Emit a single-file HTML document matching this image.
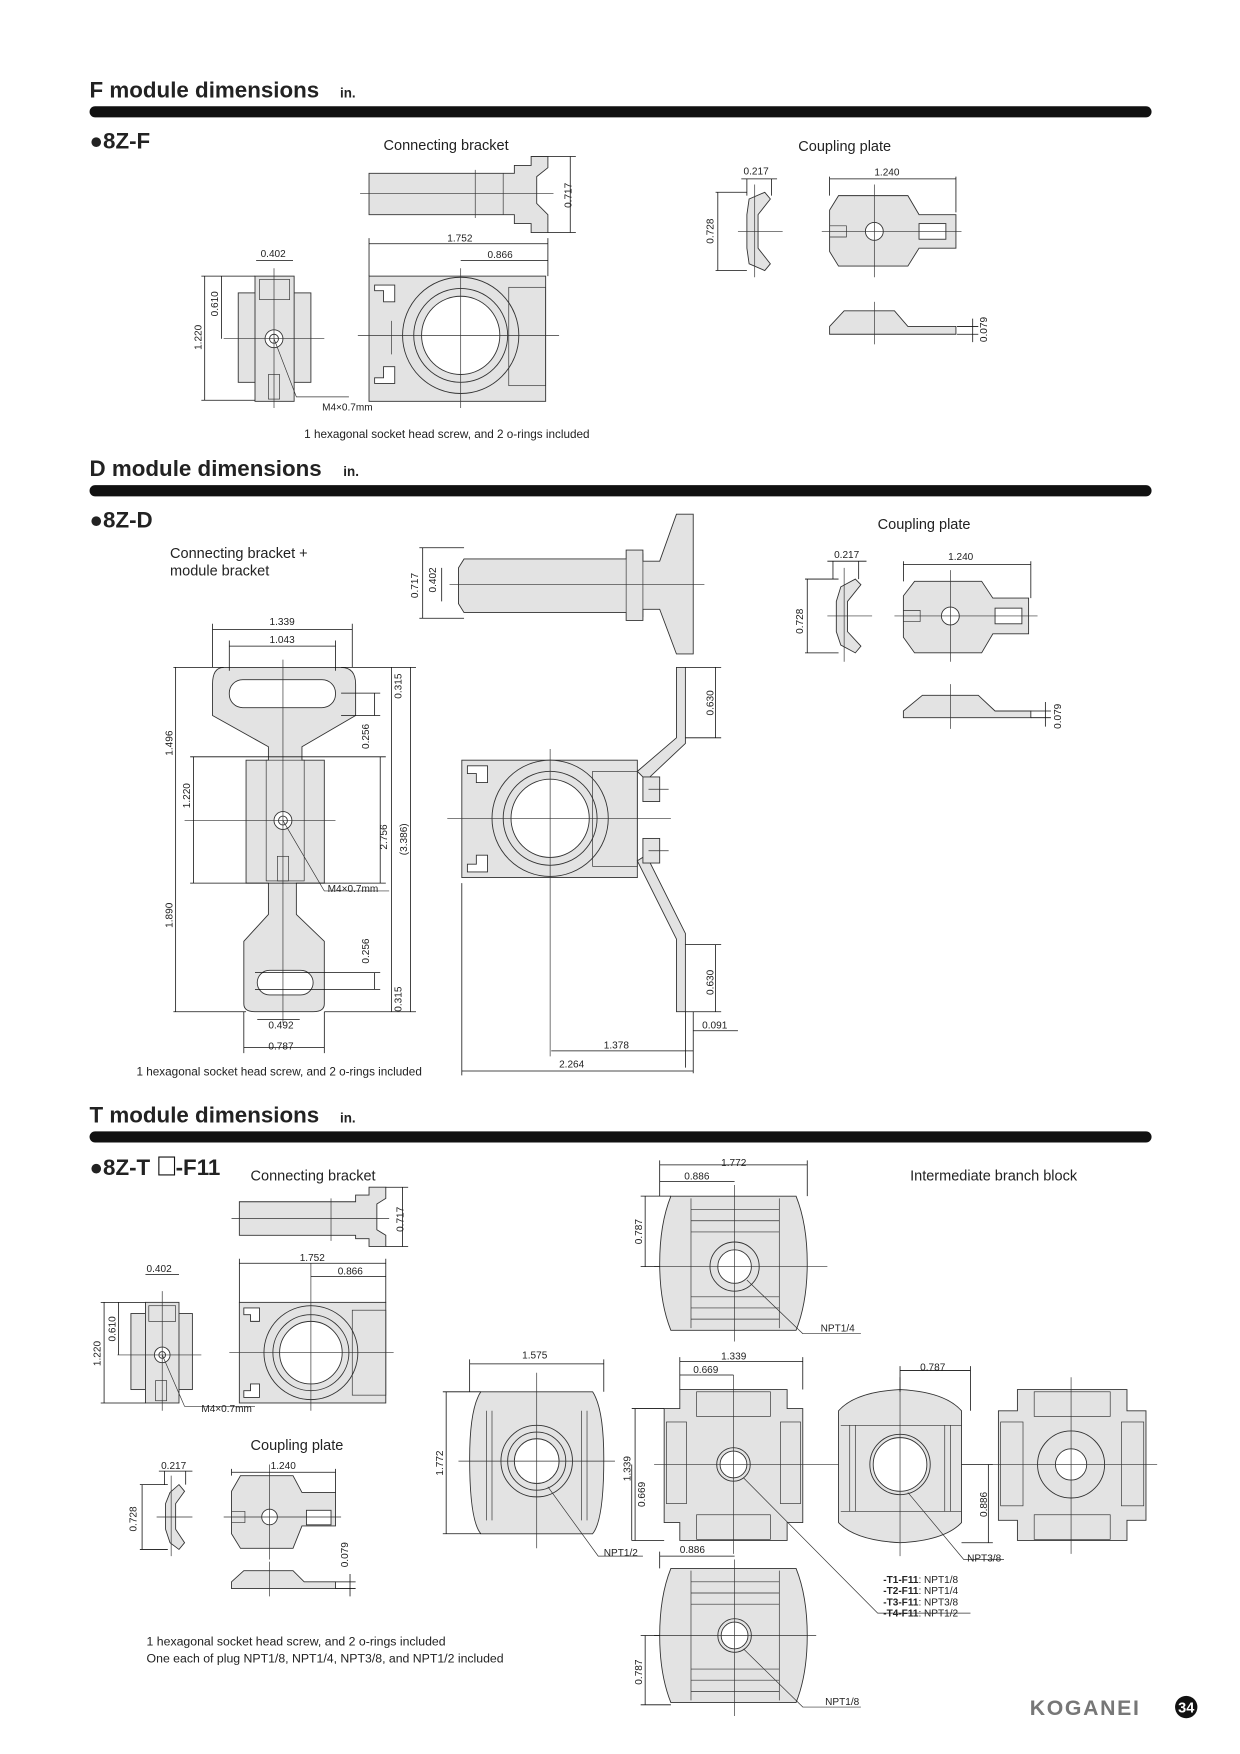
<!DOCTYPE html>
<html><head><meta charset="utf-8"><style>
html,body{margin:0;padding:0;background:#fff}
svg{display:block}
text{font-family:"Liberation Sans",Arial,sans-serif;fill:#222}
.s{fill:#e3e3e3;stroke:#333;stroke-width:0.8}
.w{fill:#fff;stroke:#333;stroke-width:0.8}
.l{fill:none;stroke:#333;stroke-width:0.6}
.d{fill:none;stroke:#111;stroke-width:0.7}
.t{font-size:9px}
.h{font-size:20px;font-weight:bold}
.u{font-size:12px;font-weight:bold}
.c{font-size:13px}
</style></head><body>
<svg width="1240" height="1754" viewBox="0 0 1109 1569" xmlns="http://www.w3.org/2000/svg">
<!-- ===== F ===== -->
<text x="80" y="87" class="h">F module dimensions</text><text x="304" y="87" class="u">in.</text>
<rect x="80" y="95" width="950" height="10" rx="5" fill="#111"/>
<text x="80" y="133" class="h">●8Z-F</text>
<text x="343" y="134" class="c">Connecting bracket</text>
<path class="s" d="M330 155 H460 V148 H475 V140 H490 V150 L480 158 V182 L490 192 V208 H475 V200 H460 V192 H330 Z"/>
<path class="l" d="M425 152 V195 M450 155 V192 M322 173 H495"/>
<path class="d" d="M490 140 H515 M490 208 H515 M510 140 V208"/><text class="t" transform="translate(511,186) rotate(-90)">0.717</text>
<rect class="s" x="330" y="247" width="158" height="112"/>
<path class="w" d="M335 255 h18 v15 h-10 v-10 h-8z M335 343 h18 v-15 h-10 v10 h-8z"/>
<circle class="s" cx="412" cy="300" r="52"/><circle class="s" cx="412" cy="300" r="42"/><circle class="w" cx="412" cy="300" r="35"/>
<rect class="l" x="455" y="257" width="33" height="88"/>
<path class="l" d="M320 300 H500 M412 240 V365 M350 287 v30"/>
<path class="d" d="M330 218 H490 M330 213 V247 M490 213 V247 M412 233 H490"/><text x="400" y="216" class="t">1.752</text><text x="436" y="231" class="t">0.866</text>
<rect class="s" x="213" y="262" width="65" height="80"/><rect class="s" x="228" y="247" width="35" height="112"/>
<rect class="l" x="232" y="250" width="27" height="18"/><rect class="l" x="240" y="335" width="10" height="22"/>
<circle class="w" cx="245" cy="303" r="8"/><circle class="w" cx="245" cy="303" r="4"/>
<path class="l" d="M245 240 V365 M200 303 H290 M245 303 L265 355 H312"/>
<path class="d" d="M229 233 H262 M180 247 H228 M180 358 H228 M183 247 V358 M198 247 V303"/>
<text x="233" y="230" class="t">0.402</text><text class="t" transform="translate(195,283) rotate(-90)">0.610</text><text class="t" transform="translate(180,313) rotate(-90)">1.220</text>
<text x="288" y="367" class="t">M4×0.7mm</text>
<text x="272" y="392" style="font-size:10.5px">1 hexagonal socket head screw, and 2 o-rings included</text>
<text x="714" y="135" class="c">Coupling plate</text>
<path class="s" d="M670 178 L684 172 L689 178 L678 192 V222 L689 236 L684 242 L670 236 L668 222 V192 Z"/>
<path class="l" d="M660 207 H700 M675 165 V248"/>
<path class="d" d="M663 160 H695 M668 160 V175 M690 160 V175 M640 172 H668 M640 242 H668 M642 172 V242"/>
<text x="665" y="156" class="t">0.217</text><text class="t" transform="translate(638,218) rotate(-90)">0.728</text>
<path class="s" d="M750 175 H812 L822 192 H855 V222 H822 L812 238 H750 L742 225 V188 Z"/>
<circle class="w" cx="782" cy="207" r="8"/><rect class="w" x="822" y="200" width="24" height="14"/>
<path class="l" d="M735 207 H860 M782 165 V248 M742 212 h15 v-10 h-15"/>
<path class="d" d="M742 160 H855 M742 158 V175 M855 158 V190"/><text x="782" y="157" class="t">1.240</text>
<path class="s" d="M742 292 L755 278 H800 L812 292 H855 V299 H742 Z"/><path class="l" d="M782 270 V308"/>
<path class="d" d="M856 292 H875 M856 299 H875 M870 285 V306"/><text class="t" transform="translate(883,306) rotate(-90)">0.079</text>

<!-- ===== D ===== -->
<text x="80" y="426" class="h">D module dimensions</text><text x="307" y="426" class="u">in.</text>
<rect x="80" y="434" width="950" height="10" rx="5" fill="#111"/>
<text x="80" y="472" class="h">●8Z-D</text>
<text x="152" y="499" class="c">Connecting bracket +</text><text x="152" y="515" class="c">module bracket</text>
<path class="s" d="M415 500 H560 V492 H575 V502 H590 L605 460 H620 V585 H605 L590 545 H575 V555 H560 V548 H415 L410 540 V508 Z"/>
<path class="l" d="M402 523 H630 M575 495 V552 M560 500 V548"/>
<path class="d" d="M375 490 H415 M375 553 H415 M378 490 V553 M395 508 V538"/>
<text class="t" transform="translate(374,535) rotate(-90)">0.717</text><text class="t" transform="translate(390,530) rotate(-90)">0.402</text>
<path class="s" d="M200 597 H305 Q318 597 318 612 V640 L270 668 V680 H290 V790 H265 V818 L290 842 V898 Q290 905 280 905 H228 Q218 905 218 898 V842 L240 818 V790 H220 V680 H240 V668 L190 640 V612 Q190 597 200 597 Z"/>
<rect class="w" x="205" y="608" width="95" height="25" rx="12"/>
<rect class="w" x="230" y="868" width="50" height="22" rx="11"/>
<rect class="l" x="238" y="680" width="34" height="108"/><circle class="w" cx="253" cy="734" r="8"/><circle class="w" cx="253" cy="734" r="4"/>
<rect class="l" x="248" y="766" width="10" height="22"/>
<path class="l" d="M253 590 V915 M165 734 H300 M253 734 L290 797 H348"/>
<path class="d" d="M190 563 H315 M190 558 V597 M315 558 V597 M205 578 H300 M205 573 V600 M300 573 V600"/>
<text x="241" y="559" class="t">1.339</text><text x="241" y="575" class="t">1.043</text>
<path class="d" d="M155 597 H200 M155 905 H220 M157 597 V905 M173 677 V790 M170 677 H240 M170 790 H240"/>
<text class="t" transform="translate(154,676) rotate(-90)">1.496</text><text class="t" transform="translate(170,723) rotate(-90)">1.220</text><text class="t" transform="translate(154,830) rotate(-90)">1.890</text>
<path class="d" d="M305 597 H372 M305 620 H340 M305 640 H340 M335 620 V640 M240 677 H345 M240 790 H345 M340 677 V790 M228 870 H340 M228 885 H340 M335 870 V885 M290 905 H372 M350 597 V905 M367 597 V905"/>
<text class="t" transform="translate(359,625) rotate(-90)">0.315</text><text class="t" transform="translate(330,670) rotate(-90)">0.256</text>
<text class="t" transform="translate(346,760) rotate(-90)">2.756</text><text class="t" transform="translate(364,765) rotate(-90)">(3.386)</text>
<text class="t" transform="translate(330,862) rotate(-90)">0.256</text><text class="t" transform="translate(359,905) rotate(-90)">0.315</text>
<path class="d" d="M230 912 H268 M218 937 H290 M218 905 V942 M290 905 V942"/><text x="240" y="920" class="t">0.492</text><text x="240" y="939" class="t">0.787</text>
<text x="293" y="798" class="t">M4×0.7mm</text>
<rect class="s" x="413" y="680" width="157" height="105"/>
<path class="w" d="M418 685 h18 v15 h-10 v-8 h-8z M418 780 h18 v-15 h-10 v8 h-8z"/>
<circle class="s" cx="492" cy="732" r="52"/><circle class="s" cx="492" cy="732" r="42"/><circle class="w" cx="492" cy="732" r="35"/>
<rect class="l" x="530" y="690" width="40" height="85"/>
<path class="s" d="M570 690 L605 660 V597 H613 V665 L578 698 Z M570 770 L605 840 V905 H613 V835 L578 765 Z"/>
<rect class="s" x="575" y="695" width="15" height="22"/><rect class="s" x="575" y="750" width="15" height="22"/>
<path class="l" d="M400 732 H600 M492 670 V945 M580 706 H598 M580 761 H598"/>
<path class="d" d="M613 597 H645 M613 660 H645 M640 597 V660 M613 845 H645 M613 905 H645 M640 845 V905 M613 905 V955 M620 905 V960 M620 922 H660 M493 940 H620 M413 790 V962 M413 958 H620"/>
<text class="t" transform="translate(638,640) rotate(-90)">0.630</text><text class="t" transform="translate(638,890) rotate(-90)">0.630</text>
<text x="628" y="920" class="t">0.091</text><text x="540" y="938" class="t">1.378</text><text x="500" y="955" class="t">2.264</text>
<text x="122" y="962" style="font-size:10.5px">1 hexagonal socket head screw, and 2 o-rings included</text>
<text x="785" y="473" class="c">Coupling plate</text>
<path class="s" d="M752 525 L765 518 L770 523 L758 538 V565 L770 578 L765 584 L752 577 L748 565 V538 Z"/>
<path class="l" d="M740 551 H780 M755 508 V592"/>
<path class="d" d="M740 502 H775 M745 502 V518 M768 502 V518 M720 518 H750 M720 584 H750 M722 518 V584"/>
<text x="746" y="499" class="t">0.217</text><text class="t" transform="translate(718,567) rotate(-90)">0.728</text>
<path class="s" d="M818 520 H878 L888 535 H920 V567 H888 L878 584 H818 L808 570 V533 Z"/>
<circle class="w" cx="850" cy="551" r="8"/><rect class="w" x="890" y="544" width="24" height="14"/>
<path class="l" d="M800 551 H928 M850 510 V592 M808 556 h15 v-10 h-15"/>
<path class="d" d="M808 505 H922 M808 502 V520 M922 502 V535"/><text x="848" y="501" class="t">1.240</text>
<path class="s" d="M808 636 L825 622 H875 L890 636 H922 V642 H808 Z"/><path class="l" d="M850 612 V652"/>
<path class="d" d="M922 636 H940 M922 642 H940 M935 628 V650"/><text class="t" transform="translate(949,652) rotate(-90)">0.079</text>

<!-- ===== T ===== -->
<text x="80" y="1004" class="h">T module dimensions</text><text x="304" y="1004" class="u">in.</text>
<rect x="80" y="1012" width="950" height="10" rx="5" fill="#111"/>
<text x="80" y="1051" class="h">●8Z-T</text><rect x="142" y="1035" width="14" height="16" fill="none" stroke="#111" stroke-width="1"/><text x="157" y="1051" class="h">-F11</text>
<text x="224" y="1056" class="c">Connecting bracket</text>
<path class="s" d="M214 1075 H318 V1069 H330 V1062 H345 V1072 L337 1077 V1100 L345 1105 V1115 H330 V1108 H318 V1105 H214 Z"/>
<path class="l" d="M296 1072 V1110 M207 1090 H348"/>
<path class="d" d="M345 1062 H365 M345 1115 H365 M360 1062 V1115"/><text class="t" transform="translate(361,1102) rotate(-90)">0.717</text>
<rect class="s" x="214" y="1165" width="131" height="90"/>
<path class="w" d="M218 1170 h14 v12 h-8 v-6 h-6z M218 1250 h14 v-12 h-8 v6 h-6z"/>
<circle class="s" cx="278" cy="1210" r="42"/><circle class="s" cx="278" cy="1210" r="34"/><circle class="w" cx="278" cy="1210" r="28"/>
<rect class="l" x="315" y="1172" width="30" height="76"/>
<path class="l" d="M205 1210 H352 M278 1130 V1262"/>
<path class="d" d="M214 1130 H345 M214 1126 V1165 M345 1126 V1165 M278 1142 H345"/><text x="268" y="1128" class="t">1.752</text><text x="302" y="1140" class="t">0.866</text>
<rect class="s" x="117" y="1175" width="55" height="68"/><rect class="s" x="130" y="1165" width="30" height="90"/>
<rect class="l" x="133" y="1168" width="24" height="14"/><rect class="l" x="139" y="1235" width="10" height="18"/>
<circle class="w" cx="145" cy="1212" r="7"/><circle class="w" cx="145" cy="1212" r="3"/>
<path class="l" d="M145 1155 V1262 M105 1212 H180 M145 1212 L165 1258 H228"/>
<path class="d" d="M130 1140 H160 M90 1165 H130 M90 1255 H130 M93 1165 V1255 M106 1165 V1212"/>
<text x="131" y="1138" class="t">0.402</text><text class="t" transform="translate(103,1200) rotate(-90)">0.610</text><text class="t" transform="translate(90,1222) rotate(-90)">1.220</text>
<text x="180" y="1263" class="t">M4×0.7mm</text>
<text x="224" y="1297" class="c">Coupling plate</text>
<path class="s" d="M152 1335 L160 1328 L165 1334 L157 1345 V1368 L165 1380 L160 1386 L152 1380 L148 1368 V1345 Z"/>
<path class="l" d="M140 1357 H172 M153 1320 V1392"/>
<path class="d" d="M142 1316 H172 M147 1316 V1328 M166 1316 V1328 M125 1328 H150 M125 1386 H150 M127 1328 V1386"/>
<text x="144" y="1314" class="t">0.217</text><text class="t" transform="translate(122,1370) rotate(-90)">0.728</text>
<path class="s" d="M215 1320 H262 L270 1335 H300 V1365 H270 L262 1385 H215 L207 1372 V1334 Z"/>
<circle class="w" cx="241" cy="1357" r="7"/><rect class="w" x="274" y="1351" width="22" height="13"/>
<path class="l" d="M200 1357 H305 M241 1310 V1395 M207 1362 h12 v-10 h-12"/>
<path class="d" d="M207 1317 H300 M207 1314 V1320 M300 1314 V1335"/><text x="242" y="1314" class="t">1.240</text>
<path class="s" d="M207 1415 L218 1405 H262 L272 1415 H300 V1421 H207 Z"/><path class="l" d="M241 1397 V1428"/>
<path class="d" d="M300 1415 H318 M300 1421 H318 M313 1408 V1428"/><text class="t" transform="translate(311,1402) rotate(-90)">0.079</text>
<text x="131" y="1472" style="font-size:11px">1 hexagonal socket head screw, and 2 o-rings included</text>
<text x="131" y="1487" style="font-size:11px">One each of plug NPT1/8, NPT1/4, NPT3/8, and NPT1/2 included</text>

<text x="814" y="1056" class="c">Intermediate branch block</text>
<g id="blk">
<path class="s" d="M600 1070 H712 Q722 1095 722 1130 Q722 1165 712 1190 H600 Q590 1165 590 1130 Q590 1095 600 1070 Z"/>
<path class="l" d="M618 1072 V1188 M697 1072 V1188 M618 1082 H697 M618 1092 H697 M618 1102 H697 M618 1160 H697 M618 1170 H697 M618 1180 H697"/>
</g>
<circle class="s" cx="657" cy="1133" r="22"/><circle class="w" cx="657" cy="1133" r="15"/>
<path class="l" d="M657 1060 V1200 M585 1133 H740 M668 1145 L718 1193 H770"/>
<path class="d" d="M590 1042 H722 M590 1038 V1070 M722 1038 V1070 M590 1057 H657 M573 1070 H600 M573 1133 H590 M577 1070 V1133"/>
<text x="645" y="1043" class="t">1.772</text><text x="612" y="1055" class="t">0.886</text><text class="t" transform="translate(574,1113) rotate(-90)">0.787</text>
<text x="734" y="1191" class="t">NPT1/4</text>
<path class="s" d="M430 1245 H530 Q540 1260 540 1305 Q540 1360 530 1372 H430 Q420 1360 420 1305 Q420 1260 430 1245 Z"/>
<path class="l" d="M435 1262 V1360 M525 1262 V1360 M440 1262 V1360 M520 1262 V1360"/>
<circle class="s" cx="480" cy="1307" r="32"/><circle class="s" cx="480" cy="1307" r="26"/><circle class="w" cx="480" cy="1307" r="20"/>
<path class="l" d="M480 1228 V1385 M410 1307 H550 M490 1330 L535 1392 H575"/>
<path class="d" d="M420 1220 H540 M420 1216 V1245 M540 1216 V1245 M396 1245 H430 M396 1372 H430 M399 1245 V1372"/>
<text x="467" y="1215" class="t">1.575</text><text class="t" transform="translate(396,1320) rotate(-90)">1.772</text><text x="540" y="1392" class="t">NPT1/2</text>
<path class="s" d="M608 1243 H704 V1260 H718 V1362 H704 V1378 H608 V1362 H594 V1260 H608 Z"/>
<rect class="l" x="623" y="1245" width="66" height="22"/><rect class="l" x="623" y="1355" width="66" height="22"/>
<rect class="l" x="596" y="1272" width="18" height="73"/><rect class="l" x="698" y="1272" width="18" height="73"/>
<circle class="s" cx="656" cy="1310" r="15"/><circle class="w" cx="656" cy="1310" r="12"/>
<path class="l" d="M656 1230 V1390 M585 1310 H820 M665 1322 L785 1443 H868"/>
<path class="d" d="M608 1218 H718 M608 1214 V1243 M718 1214 V1243 M608 1230 H656 M565 1260 H594 M565 1378 H594 M568 1260 V1378 M565 1310 V1378"/>
<text x="645" y="1216" class="t">1.339</text><text x="620" y="1228" class="t">0.669</text>
<text class="t" transform="translate(564,1325) rotate(-90)">1.339</text><text class="t" transform="translate(577,1348) rotate(-90)">0.669</text>
<path class="s" d="M750 1262 Q765 1245 805 1243 Q845 1245 860 1262 V1362 Q845 1378 805 1380 Q765 1378 750 1362 Z"/>
<path class="l" d="M752 1275 H860 M752 1352 H860 M760 1275 V1352 M765 1275 V1352 M845 1275 V1352 M850 1275 V1352"/>
<circle class="s" cx="805" cy="1310" r="27"/><circle class="w" cx="805" cy="1310" r="24"/>
<path class="l" d="M805 1232 V1392 M812 1335 L862 1395 H898"/>
<path class="d" d="M805 1226 H868 M805 1222 V1245 M868 1222 V1262 M860 1310 H888 M860 1380 H888 M884 1310 V1380"/>
<text x="823" y="1226" class="t">0.787</text><text class="t" transform="translate(883,1357) rotate(-90)">0.886</text><text x="865" y="1397" class="t">NPT3/8</text>
<path class="s" d="M910 1243 H1008 V1262 H1025 V1360 H1008 V1378 H910 V1360 H893 V1262 H910 Z"/>
<rect class="l" x="925" y="1245" width="68" height="22"/><rect class="l" x="925" y="1355" width="68" height="22"/>
<rect class="l" x="895" y="1272" width="20" height="75"/><rect class="l" x="1003" y="1272" width="20" height="75"/>
<circle class="s" cx="958" cy="1310" r="30"/><circle class="w" cx="958" cy="1310" r="14"/>
<path class="l" d="M958 1232 V1390 M885 1310 H1035"/>
<g transform="translate(0,333)"><use href="#blk"/></g>
<circle class="s" cx="657" cy="1463" r="15"/><circle class="w" cx="657" cy="1463" r="12"/>
<path class="l" d="M657 1395 V1535 M585 1463 H730 M665 1475 L718 1527 H770"/>
<path class="d" d="M590 1392 H657 M590 1388 V1403 M573 1463 H590 M573 1525 H600 M577 1463 V1525"/>
<text x="608" y="1389" class="t">0.886</text><text class="t" transform="translate(574,1507) rotate(-90)">0.787</text>
<text x="738" y="1525" class="t">NPT1/8</text>
<text x="790" y="1416" class="t"><tspan font-weight="bold">-T1-F11</tspan>: NPT1/8</text>
<text x="790" y="1426" class="t"><tspan font-weight="bold">-T2-F11</tspan>: NPT1/4</text>
<text x="790" y="1436" class="t"><tspan font-weight="bold">-T3-F11</tspan>: NPT3/8</text>
<text x="790" y="1446" class="t"><tspan font-weight="bold">-T4-F11</tspan>: NPT1/2</text>
<text x="921" y="1534" style="font-size:19px;font-weight:bold;fill:#777;letter-spacing:1.5px">KOGANEI</text>
<circle cx="1061" cy="1527" r="10" fill="#111"/><text x="1061" y="1532" text-anchor="middle" style="font-size:13px;font-weight:bold;fill:#fff">34</text>
</svg>
</body></html>
